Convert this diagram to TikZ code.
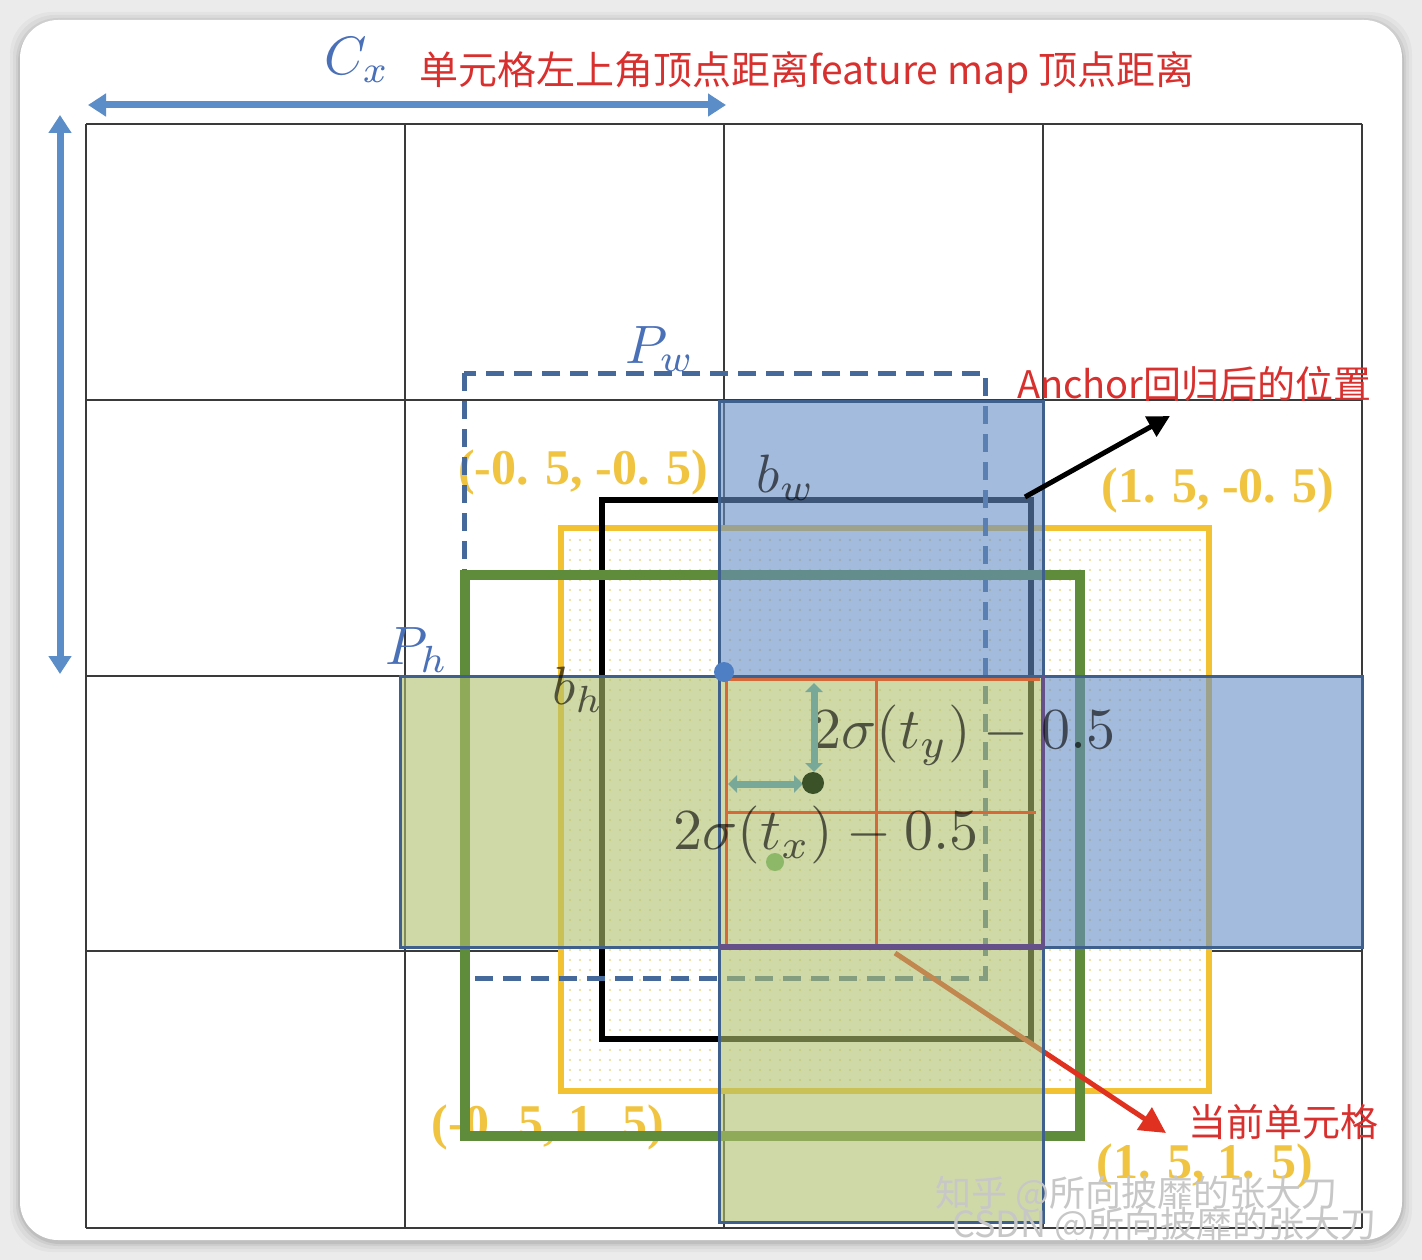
\documentclass[tikz,border=0pt]{standalone}
\usepackage{graphicx}
\usepackage{fontspec}
\newfontfamily\cjk{Noto Sans CJK SC}
\newfontfamily\coordfont{Liberation Serif}
\usetikzlibrary{arrows.meta,patterns.meta}
\newcommand\myfs[1]{\fontsize{#1}{#1}\selectfont}
\newcommand\bigmath[2]{\scalebox{#1}{$#2$}}
\definecolor{bgc}{HTML}{EBEBEB}
\definecolor{gridc}{HTML}{3A3A3A}
\definecolor{arrowblue}{HTML}{5B8DC8}
\definecolor{labblue}{HTML}{4A70B8}
\definecolor{redtext}{HTML}{D8302E}
\definecolor{ylw}{HTML}{F2C233}
\definecolor{ylab}{HTML}{F0C440}
\definecolor{dotc}{HTML}{EAD690}
\definecolor{grn}{HTML}{5F8C3A}
\definecolor{dashblue}{HTML}{45699A}
\definecolor{fillblue}{HTML}{678EC5}
\definecolor{fillgreen}{HTML}{AFC16E}
\definecolor{edgeblue}{HTML}{3F5F8C}
\definecolor{purp}{HTML}{66508A}
\definecolor{orng}{HTML}{D5693A}
\definecolor{tealc}{HTML}{78A898}
\definecolor{darkdot}{HTML}{3B5127}
\definecolor{lightdot}{HTML}{8CB868}
\definecolor{bluedot}{HTML}{4E7FC4}
\definecolor{arrowred}{HTML}{E03020}
\tikzdeclarepattern{
  name=sparsedots,
  type=uncolored,
  bottom left={(-5pt,-5pt)},
  top right={(5pt,5pt)},
  tile size={(10pt,10pt)},
  code={\pgfpathcircle{\pgfpointorigin}{1.2pt}\pgfusepath{fill}}
}
\tikzset{
  gridline/.style={draw=gridc, line width=2.5pt},
  dimarrow/.style={draw=arrowblue, line width=7pt, {Triangle[length=18pt,width=22pt]}-{Triangle[length=18pt,width=22pt]}},
  redlabel/.style={text=redtext, font=\cjk\myfs{38}, inner sep=0pt},
  coordlabel/.style={text=ylab, font=\coordfont\bfseries\myfs{50}, inner sep=0pt},
  mathlabel/.style={text=black, text opacity=0.62, inner sep=0pt},
  bluelabel/.style={text=labblue, inner sep=0pt},
  tealarrow/.style={draw=tealc, line width=7pt, {Triangle[length=9pt,width=17pt]}-{Triangle[length=9pt,width=17pt]}},
  wm/.style={text=black!22, font=\cjk\myfs{36}, inner sep=0pt, anchor=west}
}
\begin{document}
\begin{tikzpicture}[x=1pt,y=-1pt]
\useasboundingbox (0,0) rectangle (1422,1260);
% background and card
\fill[bgc] (0,0) rectangle (1422,1260);
\foreach \i/\o in {10/0.03,7/0.04,4/0.05,2/0.07}{
  \fill[black,opacity=\o,rounded corners=42pt] (20-\i,22-\i) rectangle (1402+\i,1242+\i);
}
\fill[white, rounded corners=38pt] (20,20) rectangle (1402,1240);

% grid
\foreach \x in {86,405,724,1043,1362} \draw[gridline] (\x,124) -- (\x,1228);
\foreach \y in {124,400,676,951,1228} \draw[gridline] (86,\y) -- (1362,\y);

% dimension arrows
\coordinate (hl) at (88,105);
\coordinate (hr) at (726,105);
\coordinate (vt) at (60,115);
\coordinate (vb) at (60,674);
\draw[dimarrow] (hl) -- (hr);
\draw[dimarrow] (vt) -- (vb);

% yellow dotted rectangle
\fill[white] (561,528) rectangle (1209,1091);
\fill[pattern=sparsedots, pattern color=dotc] (561,528) rectangle (1209,1091);
\draw[ylw, line width=6pt] (561,528) rectangle (1209,1091);

% labels under the boxes
\node[coordlabel] (c3) at (548,1127) {(-0. 5, 1. 5)};
\node[coordlabel] (c1) at (583,472) {(-0. 5, -0. 5)};

% black box, dashed box, green box
\draw[black, line width=6pt] (602,500) rectangle (1031,1039);
\draw[dashblue, line width=5pt, dash pattern=on 18pt off 10pt] (464,373) rectangle (985,978);
\draw[grn, line width=10pt] (465,575) rectangle (1080,1136);

% red arrow to current cell
\node[redlabel, anchor=west] (cur) at (1188,1122) {当前单元格};
\coordinate (curstart) at (895,953);
\coordinate (curtip) at (1166,1133);
\draw[arrowred, line width=5pt, -{Triangle[length=26pt,width=26pt]}] (curstart) -- (curtip);

% semi-transparent fills
\fill[fillblue, opacity=0.6] (719,401) rectangle (1043,676);
\fill[fillblue, opacity=0.6] (1043,676) rectangle (1362,947);
\fill[fillgreen, opacity=0.6] (400,676) rectangle (719,947);
\fill[fillgreen, opacity=0.6] (719,676) rectangle (1043,947);
\fill[fillgreen, opacity=0.6] (719,947) rectangle (1043,1222);

% outlines of the cross
\draw[edgeblue, line width=3pt] (719,401) rectangle (1043,1222);
\draw[edgeblue, line width=3pt] (400,676) rectangle (1362,947);
\draw[purp, line width=6pt] (719,947) -- (1043,947);
\draw[purp, line width=4pt] (1043,676) -- (1043,947);

% orange inner grid
\draw[orng, line width=3pt] (726,944) -- (726,679) -- (1040,679);
\draw[orng, line width=3pt] (876,679) -- (876,944);
\draw[orng, line width=3pt] (726,812) -- (1036,812);

% math labels
\node[mathlabel] (bw) at (786,478) {\bigmath{5.4}{b_w}};
\node[mathlabel] (bh) at (578,690) {\bigmath{5.4}{b_h}};
\node[mathlabel] (ty) at (964,735) {\bigmath{5.8}{2\sigma(t_y)-0.5}};
\node[mathlabel] (tx) at (826,835) {\bigmath{5.8}{2\sigma(t_x)-0.5}};

% offset arrows and points
\draw[tealarrow] (814,683) -- (814,772);
\draw[tealarrow] (728,784) -- (803,784);
\node[circle, fill=bluedot, minimum size=20pt, inner sep=0pt] (pc) at (724,672) {};
\node[circle, fill=darkdot, minimum size=22pt, inner sep=0pt] (pd) at (813,783) {};
\node[circle, fill=lightdot, minimum size=18pt, inner sep=0pt] (pl) at (775,862) {};

% anchor arrow
\node[redlabel, anchor=west] (anc) at (1017,384) {Anchor回归后的位置};
\coordinate (ancstart) at (1025,497);
\coordinate (anctip) at (1170,416);
\draw[black, line width=5pt, -{Triangle[length=22pt,width=22pt]}] (ancstart) -- (anctip);

% labels on top
\node[bluelabel] (cx) at (357,60) {\bigmath{5.4}{C_x}};
\node[redlabel, anchor=west, font=\cjk\myfs{39}] (title) at (419,72) {单元格左上角顶点距离feature map 顶点距离};
\node[bluelabel] (pw) at (660,349) {\bigmath{5.4}{P_w}};
\node[bluelabel] (ph) at (417,650) {\bigmath{5.4}{P_h}};
\node[coordlabel] (c2) at (1218,490) {(1. 5, -0. 5)};
\node[coordlabel] (c4) at (1205,1166) {(1. 5, 1. 5)};

% watermark
\begin{scope}
\clip[rounded corners=38pt] (20,20) rectangle (1402,1240);
\node[wm] (wm1) at (935,1194) {知乎 @所向披靡的张大刀};
\node[wm] (wm2) at (952,1225) {CSDN @所向披靡的张大刀};
\end{scope}
\end{tikzpicture}
\end{document}
